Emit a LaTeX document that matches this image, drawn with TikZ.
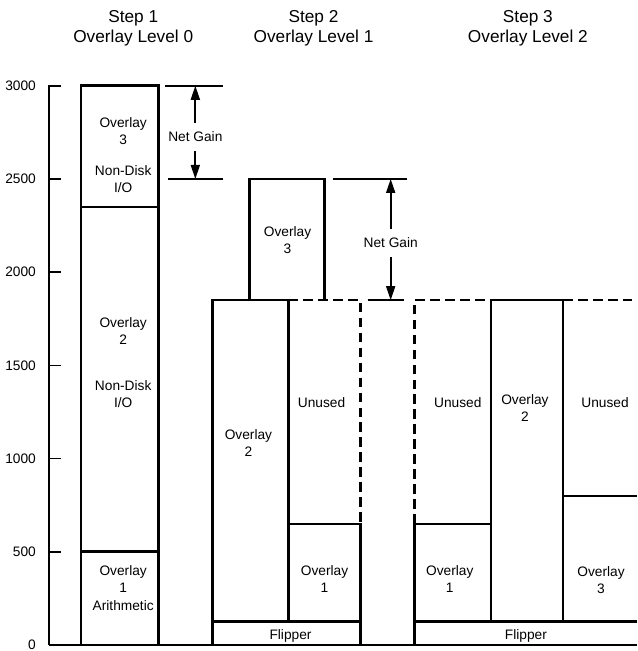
\documentclass[tikz,border=0pt]{standalone}
\usepackage{fontspec}
\setmainfont{Liberation Sans}
\usetikzlibrary{arrows.meta}
\tikzset{
  membox/.style={line width=1.5pt},
  freebox/.style={line width=1.5pt,dash pattern=on 5.5pt off 3pt},
  thinline/.style={line width=0.9pt},
  gainarrow/.style={line width=1pt,-{Triangle[length=2.8mm,width=1.8mm]}},
  lbl/.style={font=\fontsize{7.8}{10}\selectfont,align=center},
  ttl/.style={font=\fontsize{9.8}{11.5}\selectfont,align=center}
}
\begin{document}
\begin{tikzpicture}[x=0.02cm,y=0.003728cm]
\useasboundingbox (0,-32) rectangle (636,3460);
% titles
\node[ttl] (s1) at (133,3310) {Step 1\\Overlay Level 0};
\node[ttl] (s2) at (313,3310) {Step 2\\Overlay Level 1};
\node[ttl] (s3) at (527,3310) {Step 3\\Overlay Level 2};
% axis
\draw[thinline] (49,0) -- (49,3000) -- (61,3000);
\foreach \v in {500,1000,...,2500} {\draw[thinline] (49,\v) -- (61,\v);}
\foreach \v in {0,500,...,3000} {\node[lbl,anchor=east] (ax\v) at (42,\v) {\v};}
\draw[thinline] (49,0) -- (636,0);
% step 1
\draw[membox] (81,0) rectangle (158,3000);
\draw[membox] (81,2350) -- (158,2350);
\draw[membox] (81,500) -- (158,500);
\node[lbl] (a3) at (123,2757) {Overlay\\3};
\node[lbl] (a3io) at (123,2500) {Non-Disk\\I/O};
\node[lbl] (a2) at (123,1685) {Overlay\\2};
\node[lbl] (a2io) at (123,1347) {Non-Disk\\I/O};
\node[lbl] (a1) at (123,306) {Overlay\\1\\Arithmetic};
% net gain 1
\draw[thinline] (165,3000) -- (223,3000);
\draw[thinline] (168,2500) -- (223,2500);
\node[lbl,inner sep=5pt] (ng1) at (195,2725) {Net Gain};
\coordinate (ng1t) at (195,3000);
\coordinate (ng1b) at (195,2500);
\draw[gainarrow] (ng1) -- (ng1t);
\draw[gainarrow] (ng1) -- (ng1b);
% step 2
\draw[membox] (212,0) rectangle (360,125);
\draw[membox] (212,125) rectangle (288,1850);
\draw[membox] (288,125) rectangle (360,650);
\draw[membox] (249,1850) -- (249,2500) -- (324,2500) -- (324,1850);
\draw[freebox] (288,1850) -- (360,1850) -- (360,650);
\node[lbl] (b3) at (287,2173) {Overlay\\3};
\node[lbl] (b2) at (248,1084) {Overlay\\2};
\node[lbl] (bu) at (321,1298) {Unused};
\node[lbl] (b1) at (324,354) {Overlay\\1};
\node[lbl] (bf) at (290,48) {Flipper};
% net gain 2
\draw[thinline] (332,2500) -- (406,2500);
\draw[thinline] (367,1850) -- (403,1850);
\node[lbl,inner sep=5pt] (ng2) at (390,2157) {Net Gain};
\coordinate (ng2t) at (390,2500);
\coordinate (ng2b) at (390,1850);
\draw[gainarrow] (ng2) -- (ng2t);
\draw[gainarrow] (ng2) -- (ng2b);
% step 3
\draw[membox] (636,0) -- (414,0) -- (414,125) -- (636,125);
\draw[membox] (414,125) rectangle (490,650);
\draw[membox] (490,125) rectangle (562,1850);
\draw[membox] (562,125) -- (562,800) -- (636,800);
\draw[freebox] (414,650) -- (414,1850) -- (490,1850);
\draw[freebox] (562,1850) -- (636,1850);
\node[lbl] (cu1) at (457,1298) {Unused};
\node[lbl] (c2) at (524,1271) {Overlay\\2};
\node[lbl] (cu2) at (604,1298) {Unused};
\node[lbl] (c1) at (449,354) {Overlay\\1};
\node[lbl] (c3) at (600,349) {Overlay\\3};
\node[lbl] (cf) at (525,48) {Flipper};
\end{tikzpicture}
\end{document}
